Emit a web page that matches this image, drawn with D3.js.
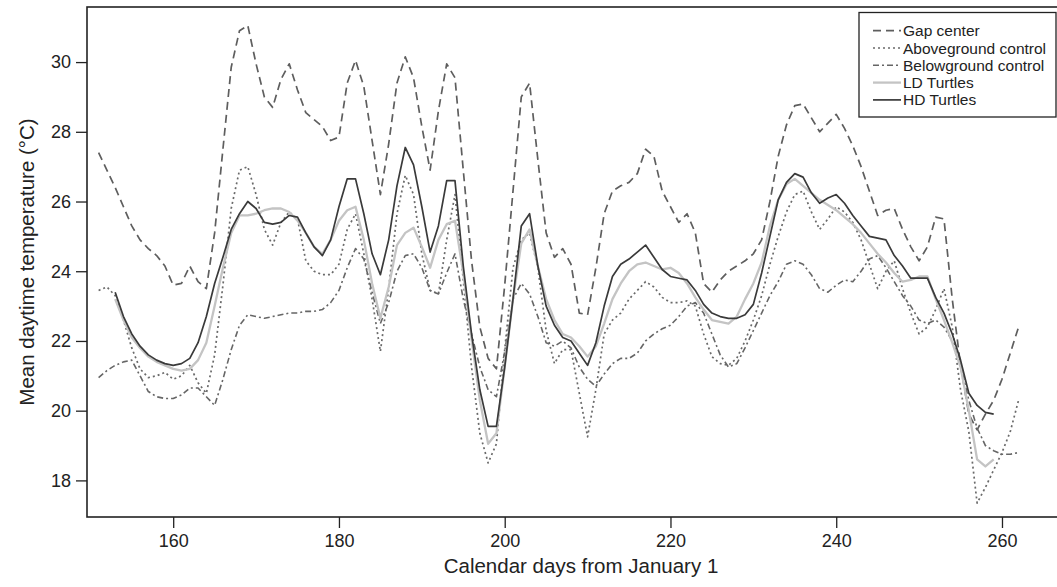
<!DOCTYPE html>
<html>
<head>
<meta charset="utf-8">
<script src="https://cdn.jsdelivr.net/npm/d3@7"></script>
<style>
  html, body { margin: 0; padding: 0; background: #fff; }
  #chart { width: 1057px; height: 587px; }
  text { font-family: "Liberation Sans", Arial, Helvetica, sans-serif; }
</style>
</head>
<body>
<div id="chart"></div>
<script>
(function () {
  'use strict';

  // Days of year; three control series start at day 151, turtle series at 153
  var CTRL_START = 151;
  var TURTLE_START = 153;

  var gapCenter = [
    27.4, 26.9, 26.4, 25.85, 25.3, 24.9, 24.65, 24.45, 24.15, 23.6,
    23.65, 24.15, 23.7, 23.5, 25.1, 27.5, 29.85, 30.9, 31.05, 29.95,
    29.0, 28.7, 29.5, 29.95, 29.2, 28.55, 28.35, 28.15, 27.75, 27.85,
    29.4, 30.05, 29.3, 27.75, 26.2, 27.65, 29.4, 30.15, 29.55, 28.15,
    26.9, 28.6, 29.95, 29.55, 26.9, 24.3, 22.4, 21.5, 21.2, 23.6,
    26.3, 29.0, 29.4, 27.2, 25.1, 24.4, 24.65, 24.2, 22.8, 22.75,
    24.1, 25.65, 26.3, 26.45, 26.55, 26.8, 27.5, 27.3, 26.3, 25.85,
    25.4, 25.65, 25.1, 23.65, 23.4, 23.75, 24.0, 24.15, 24.3, 24.5,
    24.9, 26.0, 27.3, 28.2, 28.75, 28.8, 28.4, 28.0, 28.25, 28.5,
    28.1, 27.6, 27.0, 26.3, 25.6, 25.75, 25.8, 25.2, 24.7, 24.3,
    24.7, 25.55, 25.5, 23.2, 21.3, 19.9, 19.45, 19.9, 20.3, 20.9,
    21.65, 22.4
  ];

  var aboveground = [
    23.45, 23.55, 23.3, 22.6, 21.8, 21.2, 20.95, 21.0, 21.1, 20.9,
    21.0, 21.3, 20.8, 20.5, 21.6, 23.6, 25.8, 26.9, 27.0, 26.2,
    25.2, 24.75, 25.4, 25.7, 25.5, 24.3, 24.0, 23.9, 23.9, 24.2,
    25.2, 25.65, 24.5, 23.2, 21.7, 23.5, 25.65, 26.75, 26.2, 24.5,
    23.45, 23.35, 24.9, 26.2, 23.75, 21.25, 19.35, 18.5, 19.05, 21.75,
    24.1, 24.9, 25.1, 24.1, 22.3, 21.35, 21.75, 21.75, 20.5, 19.25,
    20.6, 22.2, 22.6, 22.8, 23.2, 23.45, 23.7, 23.55, 23.25, 23.1,
    23.1, 23.15, 23.0, 22.2, 21.55, 21.35, 21.3, 21.5, 22.0, 22.6,
    23.3, 24.2, 25.0, 25.7, 26.2, 26.3, 25.7, 25.2, 25.5, 25.85,
    25.7, 25.4, 24.9, 24.2, 23.5, 24.0, 24.3, 23.5, 22.8, 22.2,
    22.4, 22.9, 23.5, 22.4, 20.6, 19.4, 17.35, 17.8, 18.3, 18.8,
    19.4, 20.3
  ];

  var belowground = [
    20.95, 21.15, 21.3, 21.4, 21.45, 21.0, 20.55, 20.4, 20.35, 20.35,
    20.45, 20.65, 20.65, 20.4, 20.15, 20.9, 21.75, 22.45, 22.75, 22.7,
    22.65, 22.7, 22.75, 22.8, 22.8, 22.85, 22.85, 22.9, 23.1, 23.45,
    24.1, 24.65, 24.35, 23.4, 22.5, 23.1, 24.0, 24.45, 24.5, 24.1,
    23.45, 23.35, 23.95, 24.5, 23.2, 22.2, 21.25, 20.6, 20.4, 21.7,
    23.2, 23.65, 23.35, 22.7, 21.95, 21.85, 22.0, 21.8, 21.25, 20.9,
    20.7, 21.05, 21.35, 21.5, 21.5, 21.65, 22.0, 22.2, 22.35, 22.45,
    22.7, 23.0, 23.1, 22.8, 22.2, 21.6, 21.25, 21.35, 21.8, 22.3,
    22.8, 23.3, 23.7, 24.2, 24.3, 24.2, 23.9, 23.5, 23.4, 23.6,
    23.75, 23.7, 24.0, 24.35, 24.45, 24.1, 23.7, 23.3, 23.0, 22.6,
    22.5, 22.6, 22.4, 22.0, 21.3, 20.3, 19.5, 19.0, 18.85, 18.75,
    18.75, 18.8
  ];

  var ldTurtles = [
    23.2, 22.6, 22.1, 21.8, 21.55, 21.4, 21.3, 21.2, 21.15, 21.2,
    21.45, 21.95, 23.0, 24.1, 25.1, 25.6, 25.6, 25.65, 25.75, 25.8,
    25.8, 25.7, 25.45, 25.1, 24.7, 24.5, 24.9, 25.45, 25.75, 25.85,
    24.9, 23.65, 22.65, 23.55, 24.75, 25.1, 25.25, 24.7, 24.1, 24.9,
    25.35, 25.45, 23.95, 22.05, 20.3, 19.05, 19.35, 21.25, 23.2, 24.8,
    25.2, 24.15, 23.2, 22.6, 22.2, 22.1, 21.85, 21.55, 21.85, 22.5,
    23.2, 23.65, 24.0, 24.2, 24.25, 24.15, 24.05, 24.1, 23.95, 23.65,
    23.25, 22.9, 22.6, 22.55, 22.5, 22.7, 23.2, 23.65, 24.25, 25.3,
    26.05, 26.5, 26.65, 26.45, 26.25, 26.05, 25.9, 25.75, 25.55, 25.35,
    25.1, 24.8, 24.5, 24.25, 23.95, 23.7, 23.75, 23.85, 23.85, 23.2,
    22.6, 21.95, 21.25, 20.0, 18.6, 18.4, 18.6
  ];

  var hdTurtles = [
    23.4, 22.7, 22.2, 21.85, 21.6, 21.45, 21.35, 21.3, 21.35, 21.5,
    21.95, 22.7, 23.65, 24.4, 25.2, 25.65, 26.0, 25.8, 25.4, 25.35,
    25.4, 25.6, 25.55, 25.1, 24.7, 24.45, 24.9, 25.85, 26.65, 26.65,
    25.65, 24.5, 23.9, 24.9, 26.45, 27.55, 27.05, 25.85, 24.55, 25.3,
    26.6, 26.6, 24.15, 22.2, 20.6, 19.55, 19.55, 21.25, 23.2, 25.3,
    25.65, 24.15, 23.0, 22.45, 22.1, 22.0, 21.65, 21.3, 21.95, 23.0,
    23.85, 24.2, 24.35, 24.55, 24.75, 24.4, 24.05, 23.85, 23.8, 23.75,
    23.45, 23.05, 22.8, 22.7, 22.65, 22.65, 22.75, 23.05, 23.95, 25.0,
    26.05, 26.55, 26.8, 26.7, 26.25, 25.95, 26.1, 26.2, 25.95, 25.6,
    25.3, 25.0, 24.95, 24.9, 24.45, 24.15, 23.8, 23.8, 23.8, 23.25,
    22.8, 22.2, 21.45, 20.5, 20.15, 19.95, 19.9
  ];

  var xTicks = [160, 180, 200, 220, 240, 260];
  var yTicks = [18, 20, 22, 24, 26, 28, 30];

  var SERIES = [
    { name: 'Gap center',          start: CTRL_START,   values: gapCenter,   color: '#5e5e5e', width: 1.7, dash: '8,5' },
    { name: 'Aboveground control', start: CTRL_START,   values: aboveground, color: '#6a6a6a', width: 1.7, dash: '2,3' },
    { name: 'Belowground control', start: CTRL_START,   values: belowground, color: '#666666', width: 1.6, dash: '6,3,2,3' },
    { name: 'LD Turtles',          start: TURTLE_START, values: ldTurtles,   color: '#c4c4c4', width: 2.3, dash: null },
    { name: 'HD Turtles',          start: TURTLE_START, values: hdTurtles,   color: '#3a3a3a', width: 1.7, dash: null }
  ];

  var W = 1057, H = 587;
  var mg = { top: 7, right: -3, bottom: 70, left: 87 };
  var w = W - mg.left - mg.right;
  var h = H - mg.top - mg.bottom;

  var svg = d3.select('#chart').append('svg')
    .attr('width', W).attr('height', H);

  var g = svg.append('g')
    .attr('transform', 'translate(' + mg.left + ',' + mg.top + ')');

  var x = d3.scaleLinear().domain([149.6, 267]).range([0, w]);
  var y = d3.scaleLinear().domain([16.95, 31.58]).range([h, 0]);

  var line = d3.line()
    .x(function (p) { return x(p.day); })
    .y(function (p) { return y(p.v); });

  // Lines, drawn so the turtles sit on top
  SERIES.forEach(function (s) {
    var pts = s.values.map(function (v, i) { return { day: s.start + i, v: v }; });
    g.append('path')
      .datum(pts)
      .attr('fill', 'none')
      .attr('stroke', s.color)
      .attr('stroke-width', s.width)
      .attr('stroke-dasharray', s.dash)
      .attr('stroke-linejoin', 'round')
      .attr('d', line);
  });

  // Frame
  g.append('rect')
    .attr('x', 0).attr('y', 0)
    .attr('width', w).attr('height', h)
    .attr('fill', 'none')
    .attr('stroke', '#222').attr('stroke-width', 1.6);

  // X axis
  var xAx = g.append('g')
    .attr('transform', 'translate(0,' + h + ')')
    .call(d3.axisBottom(x).tickValues(xTicks).tickSize(11).tickPadding(6));
  xAx.select('.domain').remove();
  xAx.selectAll('.tick line').attr('stroke', '#222').attr('stroke-width', 1.3);
  xAx.selectAll('text').attr('font-size', 18).attr('fill', '#222')
    .style('font-family', '"Liberation Sans", Arial, sans-serif');

  // Y axis
  var yAx = g.append('g')
    .call(d3.axisLeft(y).tickValues(yTicks).tickSize(11).tickPadding(5));
  yAx.select('.domain').remove();
  yAx.selectAll('.tick line').attr('stroke', '#222').attr('stroke-width', 1.3);
  yAx.selectAll('text').attr('font-size', 18).attr('fill', '#222')
    .style('font-family', '"Liberation Sans", Arial, sans-serif');

  // Axis titles
  svg.append('text')
    .attr('x', 581).attr('y', 573)
    .attr('text-anchor', 'middle')
    .attr('font-size', 20.5).attr('fill', '#222')
    .text('Calendar days from January 1');

  svg.append('text')
    .attr('transform', 'translate(26,' + (mg.top + h / 2) + ') rotate(-90)')
    .attr('text-anchor', 'middle')
    .attr('dominant-baseline', 'central')
    .attr('font-size', 20.5).attr('fill', '#222')
    .text('Mean daytime temperature (\u00b0C)');

  // Legend
  var lg = svg.append('g').attr('transform', 'translate(859,12.5)');
  lg.append('rect')
    .attr('width', 197).attr('height', 104.5)
    .attr('fill', '#fff')
    .attr('stroke', '#222').attr('stroke-width', 1.3);

  SERIES.forEach(function (s, i) {
    var cy = 18.2 + i * 17.3;
    lg.append('line')
      .attr('x1', 14).attr('x2', 42)
      .attr('y1', cy).attr('y2', cy)
      .attr('stroke', s.color)
      .attr('stroke-width', s.width)
      .attr('stroke-dasharray', s.dash);
    lg.append('text')
      .attr('x', 44).attr('y', cy)
      .attr('dominant-baseline', 'central')
      .attr('font-size', 15.5).attr('fill', '#222')
      .text(s.name);
  });
}());
</script>
</body>
</html>
